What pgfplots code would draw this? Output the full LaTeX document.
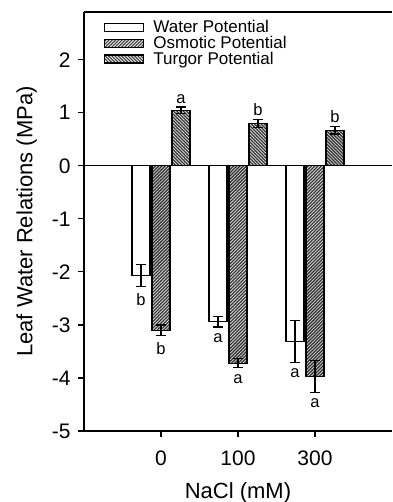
\documentclass[border=0pt]{standalone}
\usepackage{pgfplots}
\pgfplotsset{compat=1.18}
\usetikzlibrary{patterns.meta}
\usepackage{fontspec}
\setmainfont{Liberation Sans}
\tikzset{
  osmo/.style={fill=black!80, postaction={pattern={Lines[angle=45,distance=2.3pt,line width=0.8pt]}, pattern color=white!85!black}},
  turg/.style={fill=black!80, postaction={pattern={Lines[angle=-45,distance=2.3pt,line width=0.8pt]}, pattern color=white!85!black}},
}
\begin{document}
\begin{tikzpicture}
\begin{axis}[
 name=ax,
 scale only axis, width=308pt, height=419pt,
 xmin=-1, xmax=3, ymin=-5, ymax=2.9,
 axis x line*=bottom, axis y line*=left,
 axis line style={line width=1.2pt, -},
 xtick={0,1,2}, xticklabels={0,100,300},
 ytick={-5,-4,-3,-2,-1,0,1,2}, yticklabels={-5,-4,-3,-2,-1,0,1,2},
 tick align=outside, major tick length=6pt,
 tick style={line width=1.2pt, black},
 ticklabel style={font=\fontsize{21}{25}\selectfont},
 xticklabel style={yshift=-10pt},
 yticklabel style={xshift=-4pt},
 xlabel={NaCl (mM)}, ylabel={Leaf Water Relations (MPa)},
 label style={font=\fontsize{22}{26}\selectfont},
 xlabel style={yshift=-10pt},
 ylabel style={yshift=8pt},
 bar width=18pt,
 legend style={draw=none, fill=none, at={(0.065,0.985)}, anchor=north west,
   font=\fontsize{17}{18}\selectfont, row sep=-2pt, inner sep=0pt},
 legend cell align=left,
]
\addplot[ybar, bar shift=0pt, fill=white, draw=black, line width=1.2pt,
  legend image code/.code={\draw[fill=white, draw=black, line width=1.2pt] (0pt,-4pt) rectangle (39pt,4pt); \path (46pt,0pt);},
  error bars/.cd, y dir=both, y explicit,
  error bar style={line width=1.2pt, black},
  error mark options={rotate=90, mark size=5pt, line width=1.2pt, black}]
  coordinates {(-0.26,-2.07) +- (0,0.21) (0.74,-2.94) +- (0,0.10) (1.74,-3.31) +- (0,0.40)};
\addlegendentry{Water Potential}
\addplot[ybar, bar shift=0pt, osmo, draw=black, line width=1.2pt,
  legend image code/.code={\draw[osmo, draw=black, line width=1.2pt] (0pt,-4pt) rectangle (39pt,4pt); \path (46pt,0pt);},
  error bars/.cd, y dir=both, y explicit,
  error bar style={line width=1.2pt, black},
  error mark options={rotate=90, mark size=5pt, line width=1.2pt, black}]
  coordinates {(0,-3.10) +- (0,0.10) (1,-3.72) +- (0,0.09) (2,-3.97) +- (0,0.30)};
\addlegendentry{Osmotic Potential}
\addplot[ybar, bar shift=0pt, turg, draw=black, line width=1.2pt,
  legend image code/.code={\draw[turg, draw=black, line width=1.2pt] (0pt,-4pt) rectangle (39pt,4pt); \path (46pt,0pt);},
  error bars/.cd, y dir=both, y explicit,
  error bar style={line width=1.2pt, black},
  error mark options={rotate=90, mark size=5pt, line width=1.2pt, black}]
  coordinates {(0.26,1.05) +- (0,0.06) (1.26,0.80) +- (0,0.08) (2.26,0.67) +- (0,0.07)};
\addlegendentry{Turgor Potential}
\addplot[only marks, mark=none, nodes near coords, point meta=explicit symbolic,
  nodes near coords style={anchor=north, yshift=-3pt, font=\fontsize{16.5}{19}\selectfont}, forget plot]
  coordinates {(-0.26,-2.28) [b] (0.74,-3.04) [a] (1.74,-3.71) [a]
               (0,-3.20) [b] (1,-3.81) [a] (2,-4.27) [a]};
\addplot[only marks, mark=none, nodes near coords, point meta=explicit symbolic,
  nodes near coords style={anchor=south, yshift=0pt, font=\fontsize{16.5}{19}\selectfont}, forget plot]
  coordinates {(0.26,1.11) [a] (1.26,0.88) [b] (2.26,0.74) [b]};
\draw[line width=1.2pt] (rel axis cs:0,1) -- (rel axis cs:1,1);
\draw[line width=1.2pt] (axis cs:-1,0) -- (axis cs:3,0);
\end{axis}
\pgfresetboundingbox
\path ([shift={(-84pt,-71pt)}]ax.south west) rectangle ([shift={(0pt,12pt)}]ax.north east);
\end{tikzpicture}
\end{document}
